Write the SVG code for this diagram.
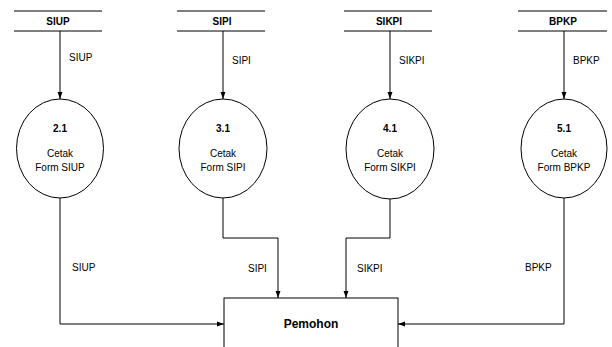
<svg xmlns="http://www.w3.org/2000/svg" width="612" height="347" viewBox="0 0 612 347">
<defs>
<marker id="arr" markerWidth="7" markerHeight="10" refX="10" refY="3.5" viewBox="0 0 10 7" markerUnits="userSpaceOnUse" orient="auto">
<path d="M0,0 L10,3.5 L0,7 Z" fill="#000"/>
</marker>
<style>
.ln{stroke:#000;stroke-width:1;fill:none}
.fl{stroke:#000;stroke-width:1;fill:none;marker-end:url(#arr)}
.ep{stroke:#000;stroke-width:1;fill:#fff}
text{font-family:"Liberation Sans",Arial,sans-serif;font-size:10px;fill:#000}
.b{font-weight:bold}
.c{text-anchor:middle}
</style>
</defs>
<rect width="612" height="347" fill="#fff"/>
<g id="store-siup"><line class="ln" x1="14" y1="11" x2="102" y2="11"/><line class="ln" x1="14" y1="31" x2="102" y2="31"/><text class="b c" x="58" y="25">SIUP</text></g>
<g id="store-sipi"><line class="ln" x1="177" y1="11" x2="265" y2="11"/><line class="ln" x1="177" y1="31" x2="265" y2="31"/><text class="b c" x="222" y="25">SIPI</text></g>
<g id="store-sikpi"><line class="ln" x1="344" y1="11" x2="432" y2="11"/><line class="ln" x1="344" y1="31" x2="432" y2="31"/><text class="b c" x="389" y="25">SIKPI</text></g>
<g id="store-bpkp"><line class="ln" x1="518" y1="11" x2="607" y2="11"/><line class="ln" x1="518" y1="31" x2="607" y2="31"/><text class="b c" x="563" y="25">BPKP</text></g>
<g id="proc-2-1"><ellipse class="ep" cx="60" cy="148.5" rx="43.5" ry="49.5"/><text class="b c" x="60" y="132">2.1</text><text class="c" x="60" y="157">Cetak</text><text class="c" x="60" y="171">Form SIUP</text></g>
<g id="proc-3-1"><ellipse class="ep" cx="223" cy="148.5" rx="44" ry="49.5"/><text class="b c" x="223" y="132">3.1</text><text class="c" x="223" y="157">Cetak</text><text class="c" x="223" y="171">Form SIPI</text></g>
<g id="proc-4-1"><ellipse class="ep" cx="390" cy="149" rx="44" ry="50"/><text class="b c" x="390" y="132">4.1</text><text class="c" x="390" y="157">Cetak</text><text class="c" x="390" y="171">Form SIKPI</text></g>
<g id="proc-5-1"><ellipse class="ep" cx="564" cy="148.5" rx="43" ry="49.5"/><text class="b c" x="564" y="132">5.1</text><text class="c" x="564" y="157">Cetak</text><text class="c" x="564" y="171">Form BPKP</text></g>
<g id="pemohon"><rect class="ln" x="224" y="298" width="174" height="70"/><text class="b" x="311" y="328" text-anchor="middle" style="font-size:12px">Pemohon</text></g>
<g id="connectors">
<line class="fl" x1="60" y1="31" x2="60" y2="99"/>
<line class="fl" x1="223" y1="31" x2="223" y2="99"/>
<line class="fl" x1="390" y1="31" x2="390" y2="99"/>
<line class="fl" x1="564" y1="31" x2="564" y2="99"/>
<polyline class="fl" points="60,198 60,324 224,324"/>
<polyline class="fl" points="223,198 223,238 278,238 278,298"/>
<polyline class="fl" points="390,199 390,238 346,238 346,298"/>
<polyline class="fl" points="564,198 564,324 398,324"/>
<text x="69" y="61">SIUP</text>
<text x="232" y="64">SIPI</text>
<text x="399" y="64">SIKPI</text>
<text x="573" y="64">BPKP</text>
<text x="72" y="271">SIUP</text>
<text x="248" y="272">SIPI</text>
<text x="357" y="272">SIKPI</text>
<text x="525" y="271">BPKP</text>
</g>
</svg>
